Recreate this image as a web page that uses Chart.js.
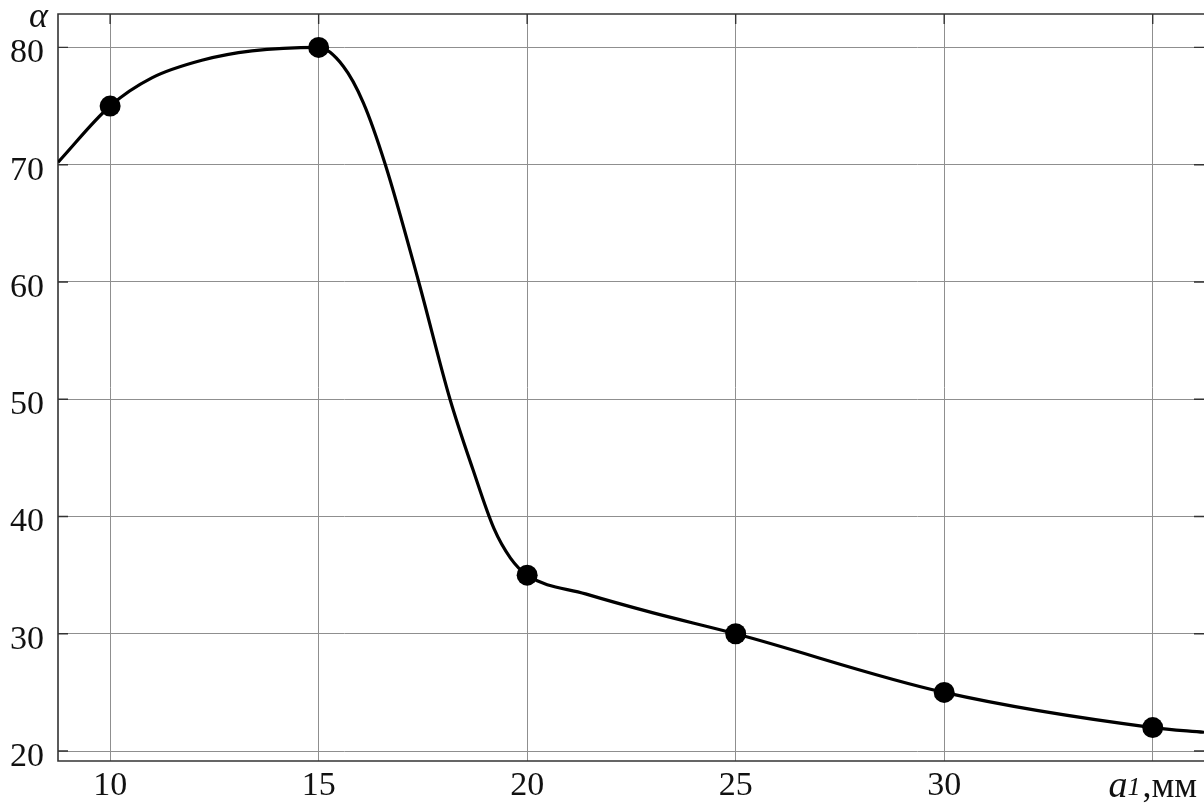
<!DOCTYPE html>
<html>
<head>
<meta charset="utf-8">
<script src="https://cdn.jsdelivr.net/npm/chart.js@4"></script>
<style>
  html, body { margin: 0; padding: 0; background: #fff; }
  #wrap { width: 1204px; height: 805px; }
</style>
</head>
<body>
<div id="wrap"><canvas id="chart" width="1204" height="805"></canvas></div>
<script>
// measured points (markers)
const pointX = [10, 15, 20, 25, 30, 35];
const pointY = [75, 80, 35, 30, 25, 22];

// points (no markers)
const curveX = [8.75, 10, 11, 12.2, 13.4, 15, 15.59, 16.07, 16.6, 17.4, 18.15, 18.7, 19.2, 19.6, 20, 21.4, 23, 25, 30, 35, 36.23];
const curveY = [70.2, 75, 77.4, 78.9, 79.7, 80, 78.4, 75.3, 70, 60, 50, 44, 39, 36.45, 35, 33.4, 31.8, 30, 25, 22, 21.6];

const xTicks = [10, 15, 20, 25, 30, 35];
const yTicks = [20, 30, 40, 50, 60, 70, 80];
const xLabel = { main: 'a', sub: '1', rest: ',мм' };
const yLabel = 'α';

const serif = '"Liberation Serif", "Times New Roman", serif';

const curve = curveX.map((x, i) => ({ x: x, y: curveY[i] }));
const points = pointX.map((x, i) => ({ x: x, y: pointY[i] }));

// frame, inward ticks and axis titles
const framePlugin = {
    id: 'frame',
    beforeDatasetsDraw(chart) {
        const ctx = chart.ctx;
        const a = chart.chartArea;
        const xs = chart.scales.x, ys = chart.scales.y;
        ctx.save();
        ctx.strokeStyle = '#333';
        ctx.lineWidth = 1.6;
        ctx.beginPath();
        ctx.moveTo(a.right, a.top);
        ctx.lineTo(a.left, a.top);
        ctx.lineTo(a.left, a.bottom);
        ctx.lineTo(a.right, a.bottom);
        ctx.stroke();
        ctx.lineWidth = 1.4;
        ctx.beginPath();
        yTicks.forEach(v => {
            const py = ys.getPixelForValue(v);
            ctx.moveTo(a.left, py); ctx.lineTo(a.left + 10, py);
            ctx.moveTo(a.right, py); ctx.lineTo(a.right - 10, py);
        });
        xTicks.forEach(v => {
            const px = xs.getPixelForValue(v);
            ctx.moveTo(px, a.top); ctx.lineTo(px, a.top + 10);
        });
        ctx.stroke();
        ctx.restore();
    },
    afterDraw(chart) {
        const ctx = chart.ctx;
        const xs = chart.scales.x;
        ctx.save();
        ctx.fillStyle = '#111';
        ctx.textBaseline = 'alphabetic';
        // y title
        ctx.font = 'italic 36px ' + serif;
        ctx.textAlign = 'right';
        ctx.fillText(yLabel, 48, 27);
        // x title in place of the last tick label
        ctx.textAlign = 'left';
        const fMain = 'italic 38px ' + serif;
        const fSub = 'italic 26px ' + serif;
        const fRest = '36px ' + serif;
        ctx.font = fMain; const w1 = ctx.measureText(xLabel.main).width;
        ctx.font = fSub; const w2 = ctx.measureText(xLabel.sub).width;
        ctx.font = fRest; const w3 = ctx.measureText(xLabel.rest).width;
        let x0 = xs.getPixelForValue(35) - (w1 + w2 + w3 + 2) / 2;
        const base = 797;
        ctx.font = fMain; ctx.fillText(xLabel.main, x0, base); x0 += w1;
        ctx.font = fSub; ctx.fillText(xLabel.sub, x0, base - 2); x0 += w2 + 2;
        ctx.font = fRest; ctx.fillText(xLabel.rest, x0, base);
        ctx.restore();
    }
};

const ctx = document.getElementById('chart').getContext('2d');
let chart = new Chart(ctx, {
    type: 'scatter',
    data: {
        datasets: [
            {
                label: 'curve',
                data: curve,
                showLine: true,
                borderColor: '#000',
                borderWidth: 3.2,
                pointRadius: 0,
                cubicInterpolationMode: 'monotone',
                fill: false,
                order: 2
            },
            {
                label: 'points',
                data: points,
                showLine: false,
                pointRadius: 10.5,
                pointBackgroundColor: '#000',
                pointBorderColor: '#000',
                pointBorderWidth: 0,
                order: 1
            }
        ]
    },
    options: {
        responsive: false,
        animation: false,
        devicePixelRatio: 1,
        layout: { autoPadding: false, padding: { top: 14, right: 0, bottom: 0, left: 0 } },
        plugins: {
            legend: { display: false },
            tooltip: { enabled: false }
        },
        scales: {
            x: {
                type: 'linear',
                min: 8.75,
                max: 36.23,
                afterBuildTicks: s => { s.ticks = xTicks.map(v => ({ value: v })); },
                afterFit: s => { s.height = 44; s.paddingLeft = 0; s.paddingRight = 0; },
                grid: { color: '#8f8f8f', lineWidth: 1, drawTicks: false },
                border: { display: false },
                ticks: {
                    padding: 5,
                    color: '#111',
                    font: { family: serif, size: 34 },
                    callback: v => (v === 35 ? '' : String(v))
                }
            },
            y: {
                type: 'linear',
                min: 19.15,
                max: 82.85,
                afterBuildTicks: s => { s.ticks = yTicks.map(v => ({ value: v })); },
                afterFit: s => { s.width = 58; s.paddingTop = 0; s.paddingBottom = 0; },
                grid: { color: '#8f8f8f', lineWidth: 1, drawTicks: false },
                border: { display: false },
                ticks: {
                    padding: 14,
                    labelOffset: 6,
                    color: '#111',
                    font: { family: serif, size: 34 }
                }
            }
        }
    },
    plugins: [framePlugin]
});
</script>
</body>
</html>
